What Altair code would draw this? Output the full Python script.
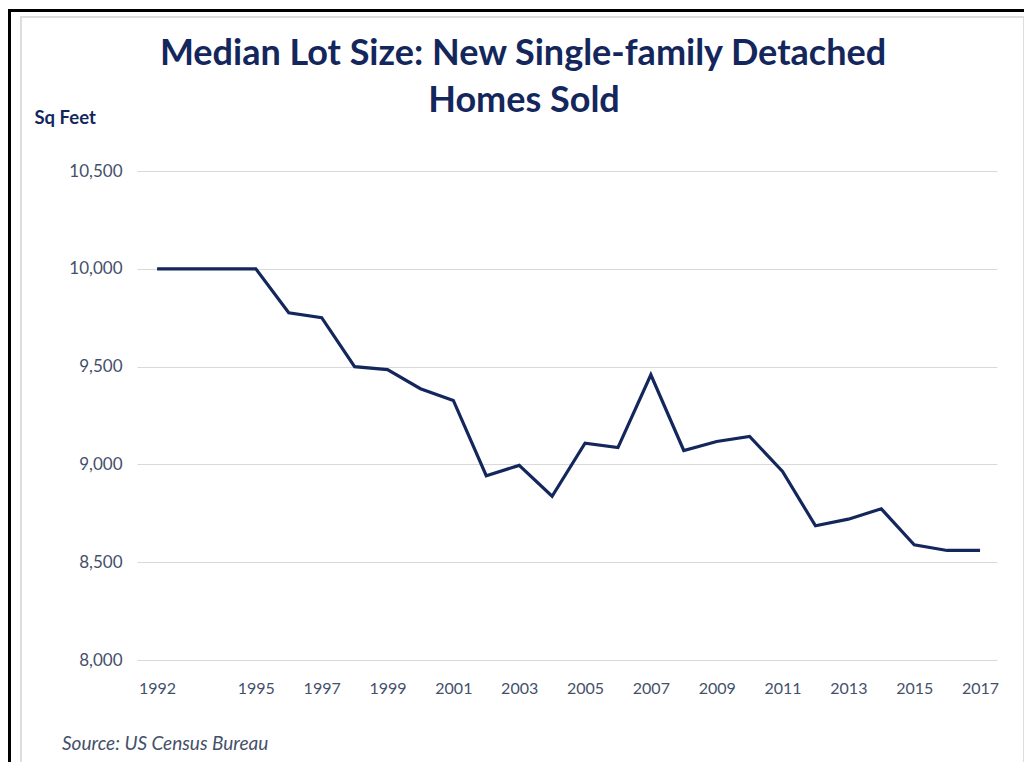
import altair as alt
import pandas as pd

# Data
years = [1992, 1993, 1994, 1995, 1996, 1997, 1998, 1999, 2000, 2001, 2002, 2003, 2004,
         2005, 2006, 2007, 2008, 2009, 2010, 2011, 2012, 2013, 2014, 2015, 2016, 2017]
lot_size = [10000, 10000, 10000, 10000, 9775, 9750, 9500, 9485, 9387, 9327, 8942, 8995, 8837,
            9108, 9086, 9458, 9071, 9117, 9143, 8964, 8686, 8720, 8773, 8589, 8560, 8560]
x_tick_labels = [1992, 1995, 1997, 1999, 2001, 2003, 2005, 2007, 2009, 2011, 2013, 2015, 2017]
y_tick_values = [8000, 8500, 9000, 9500, 10000, 10500]

title_lines = ["Median Lot Size: New Single-family Detached", "Homes Sold"]
y_title = "Sq Feet"
source_text = "Source: US Census Bureau"

NAVY = "#14275C"
LABEL = "#44506A"
GRID = "#D9D9D9"
FONT = "Lato"

df = pd.DataFrame({"year": years, "value": lot_size})
deco = pd.DataFrame({"k": [0]})

W, H = 860, 489

line = alt.Chart(df).mark_line(color=NAVY, strokeWidth=3.2).encode(
    x=alt.X("year:Q",
            scale=alt.Scale(domain=[1991.39, 2017.515], nice=False, zero=False),
            axis=alt.Axis(values=x_tick_labels, format="d", grid=False, ticks=False,
                          domain=False, labelFont=FONT, labelFontSize=16,
                          labelColor=LABEL, labelPadding=20, title=None,
                          labelFlush=False)),
    y=alt.Y("value:Q",
            scale=alt.Scale(domain=[8000, 10500], nice=False, zero=False),
            axis=alt.Axis(values=y_tick_values, format=",.0f", grid=True, gridColor=GRID,
                          gridWidth=1.2, ticks=False, domain=False, labelFont=FONT,
                          labelFontSize=17, labelColor=LABEL, labelPadding=15,
                          title=y_title, titleAngle=0, titleX=-103, titleY=-48,
                          titleAlign="left", titleBaseline="alphabetic",
                          titleFont=FONT, titleFontSize=18.5, titleFontWeight="bold",
                          titleColor=NAVY)),
)

outer = alt.Chart(deco).mark_rect(filled=False, stroke="black", strokeWidth=3).encode(
    x=alt.value(-127.5), x2=alt.value(1100), y=alt.value(-160.5), y2=alt.value(900))
inner = alt.Chart(deco).mark_rect(filled=False, stroke="#DDDDDD", strokeWidth=2).encode(
    x=alt.value(-116), x2=alt.value(887), y=alt.value(-154), y2=alt.value(900))
source = alt.Chart(deco).mark_text(align="left", baseline="alphabetic", font=FONT,
                                   fontSize=19, fontStyle="italic", color=LABEL).encode(
    x=alt.value(-75), y=alt.value(579), text=alt.value(source_text))
title1 = alt.Chart(deco).mark_text(align="center", baseline="alphabetic", font=FONT,
                                   fontSize=36, fontWeight="bold", color=NAVY).encode(
    x=alt.value(386), y=alt.value(-106), text=alt.value(title_lines[0]))
title2 = alt.Chart(deco).mark_text(align="center", baseline="alphabetic", font=FONT,
                                   fontSize=36, fontWeight="bold", color=NAVY).encode(
    x=alt.value(387), y=alt.value(-59), text=alt.value(title_lines[1]))

chart = alt.layer(outer, inner, line, source, title1, title2).properties(
    width=W, height=H,
    autosize=alt.AutoSizeParams(type="none"),
    padding={"left": 129, "top": 163, "right": 27, "bottom": 102},
).configure_view(stroke=None)

chart.save("out.html", embed_options={"renderer": "svg", "actions": False})
